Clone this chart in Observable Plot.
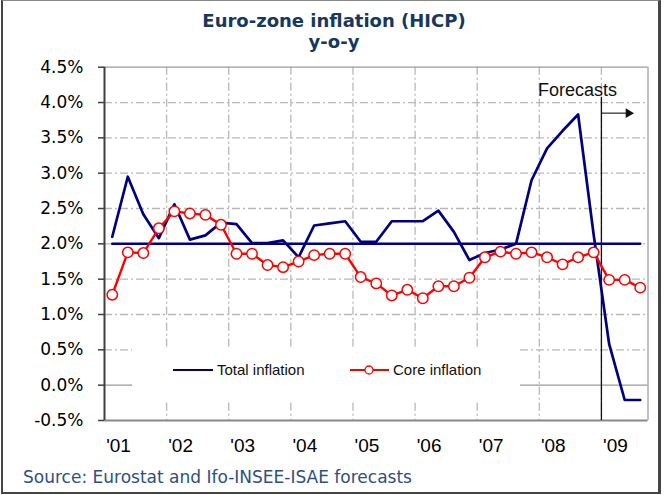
<!DOCTYPE html>
<html>
<head>
<meta charset="utf-8">
<script src="https://cdn.jsdelivr.net/npm/d3@7"></script>
<script src="https://cdn.jsdelivr.net/npm/@observablehq/plot@0.6"></script>
<style>
  html, body { margin: 0; padding: 0; background: #fff; }
  #wrap { position: relative; width: 664px; height: 495px; overflow: hidden; background: #fff; }
  #frame { position: absolute; left: 1px; top: 0px; width: 655px; height: 491px;
           border-left: 2px solid #444; border-right: 3px solid #444; border-bottom: 2px solid #444; border-top: 1px solid #888; box-sizing: content-box; }
  #title { position: absolute; left: 4px; top: 0; width: 660px; text-align: center;
           font-family: "DejaVu Sans", Verdana, sans-serif; font-weight: bold; font-size: 18px; color: #17375e; }
  #title div { position: absolute; left: 0; width: 100%; }
  #source { position: absolute; left: 23px; top: 467px; font-family: "DejaVu Sans", Verdana, sans-serif;
            font-size: 17px; color: #2f4f80; white-space: nowrap; line-height: 20px; }
  #legend { position: absolute; left: 132px; top: 347px; width: 388px; height: 54px; background: #fff; }
  #chart { position: absolute; left: 0; top: 0; }
</style>
</head>
<body>
<div id="wrap">
  <div id="chart"></div>
  <div id="legend"></div>
  <div id="title"></div>
  <div id="source"></div>
  <div id="frame"></div>
</div>
<script>
// ---- data ----
const yearLabels = ["'01", "'02", "'03", "'04", "'05", "'06", "'07", "'08", "'09"];
const quarterNames = ["Q1", "Q2", "Q3", "Q4"];
// total HICP inflation, y-o-y %, quarterly 2001Q1 .. 2009Q3
const totalInflation = [2.10, 2.95, 2.42, 2.08, 2.56, 2.06, 2.12, 2.30, 2.28, 2.01, 2.01, 2.05,
  1.81, 2.26, 2.29, 2.32, 2.03, 2.03, 2.32, 2.32, 2.32, 2.47, 2.17, 1.77,
  1.87, 1.92, 2.00, 2.90, 3.35, 3.60, 3.83, 2.13, 0.58, -0.21, -0.21];
// core inflation, y-o-y %
const coreInflation = [1.28, 1.88, 1.87, 2.22, 2.46, 2.43, 2.41, 2.27, 1.86, 1.86, 1.70, 1.67,
  1.75, 1.84, 1.86, 1.86, 1.53, 1.44, 1.27, 1.35, 1.23, 1.40, 1.40, 1.52,
  1.81, 1.89, 1.86, 1.88, 1.81, 1.71, 1.81, 1.88, 1.49, 1.49, 1.38];
const ecbTarget = 2.0;
const yTicks = [-0.5, 0, 0.5, 1.0, 1.5, 2.0, 2.5, 3.0, 3.5, 4.0, 4.5];
const forecastStart = "'09 Q1";
const forecastLabel = "Forecasts";
const forecastArrowLevel = 3.85;
const titleLines = ["Euro-zone inflation (HICP)", "y-o-y"];
const sourceText = "Source: Eurostat and Ifo-INSEE-ISAE forecasts";
const legendLabels = ["Total inflation", "Core inflation"];

// ---- build table ----
const categories = [];
yearLabels.forEach(y => quarterNames.forEach(q => categories.push(y + " " + q)));
const rows = totalInflation.map((t, i) => ({i, label: categories[i], total: t, core: coreInflation[i]}));
const nCat = rows.length;
const yearStarts = yearLabels.map((_, j) => j * 4);
const fIdx = categories.indexOf(forecastStart);

const FONT_AR = "'Liberation Sans', Arial, sans-serif";
const FONT_DV = "'DejaVu Sans', Verdana, sans-serif";
const gridDash = "8,3,2,3";

const chart = Plot.plot({
  width: 664, height: 495,
  marginLeft: 104, marginRight: 16.5, marginTop: 66.7, marginBottom: 75,
  x: {domain: [0, nCat], axis: null},
  y: {domain: [yTicks[0], yTicks[yTicks.length - 1]], axis: null},
  style: {background: "transparent", overflow: "visible"},
  marks: [
    // grid
    Plot.ruleY(yTicks.filter(v => v !== 0 && v !== yTicks[0] && v !== yTicks[yTicks.length - 1]),
      {stroke: "#b8b8b8", strokeWidth: 1.3, strokeDasharray: gridDash}),
    Plot.ruleX(yearStarts.filter(v => v > 0), {stroke: "#b8b8b8", strokeWidth: 1.3, strokeDasharray: gridDash}),
    Plot.ruleY([0], {stroke: "#999", strokeWidth: 1.3}),
    // borders
    Plot.ruleY([yTicks[yTicks.length - 1]], {stroke: "#999", strokeWidth: 1.2}),
    Plot.ruleX([nCat], {stroke: "#999", strokeWidth: 1.2}),
    Plot.ruleY([yTicks[0]], {stroke: "#888", strokeWidth: 2}),
    Plot.ruleX([0], {stroke: "#404040", strokeWidth: 2}),
    // forecast marker
    Plot.ruleX([fIdx], {stroke: "#111", strokeWidth: 1.3, insetTop: 30}),
    Plot.ruleY([forecastArrowLevel], {x1: fIdx, x2: fIdx + 2.0, stroke: "#111", strokeWidth: 1.1}),
    Plot.dot([forecastArrowLevel], {x: fIdx + 2.0, y: d => d, symbol: "triangle", rotate: 90, r: 3.6, fill: "#111", stroke: "none", dx: -4}),
    Plot.text([forecastLabel], {x: fIdx, frameAnchor: "top", dy: 16, dx: -24, fontSize: 18, fontFamily: FONT_AR, fill: "#111"}),
    // series
    Plot.line(rows, {x: d => d.i + 0.5, y: "total", stroke: "#000080", strokeWidth: 2.7}),
    Plot.line(rows, {x: d => d.i + 0.5, y: () => ecbTarget, stroke: "#000080", strokeWidth: 2.5}),
    Plot.line(rows, {x: d => d.i + 0.5, y: "core", stroke: "#ff0000", strokeWidth: 2.4}),
    Plot.dot(rows, {x: d => d.i + 0.5, y: "core", r: 5.2, fill: "white", stroke: "#ff0000", strokeWidth: 1.5}),
    // axes
    Plot.axisY({ticks: yTicks, tickFormat: v => v.toFixed(1) + "%", tickSize: 6, tickPadding: 15,
      fontSize: 17, fontFamily: FONT_DV, fill: "#000", stroke: "#404040", strokeWidth: 1.5}),
    Plot.axisX({ticks: yearStarts, tickFormat: i => yearLabels[i / 4], tickSize: 0, tickPadding: 18, dx: 14,
      fontSize: 19, fontFamily: FONT_AR, fill: "#000"})
  ]
});
document.getElementById("chart").appendChild(chart);

// legend
const ns = "http://www.w3.org/2000/svg";
const lg = document.createElementNS(ns, "svg");
lg.setAttribute("width", 388); lg.setAttribute("height", 54);
lg.innerHTML = `
  <line x1="41" x2="81" y1="23" y2="23" stroke="#000080" stroke-width="2"/>
  <text x="85" y="28" font-family="${FONT_AR.replace(/"/g,'')}" font-size="15" fill="#111">${legendLabels[0]}</text>
  <line x1="218" x2="257" y1="23" y2="23" stroke="#ff0000" stroke-width="2"/>
  <circle cx="237" cy="23" r="4" fill="#fff" stroke="#ff0000" stroke-width="1.3"/>
  <text x="261" y="28" font-family="${FONT_AR.replace(/"/g,'')}" font-size="15" fill="#111">${legendLabels[1]}</text>`;
document.getElementById("legend").appendChild(lg);

// title and source
const t = document.getElementById("title");
titleLines.forEach((s, k) => {
  const d = document.createElement("div");
  d.textContent = s;
  d.style.top = (k === 0 ? 9 : 30) + "px";
  d.style.lineHeight = "24px";
  t.appendChild(d);
});
document.getElementById("source").textContent = sourceText;
</script>
</body>
</html>
